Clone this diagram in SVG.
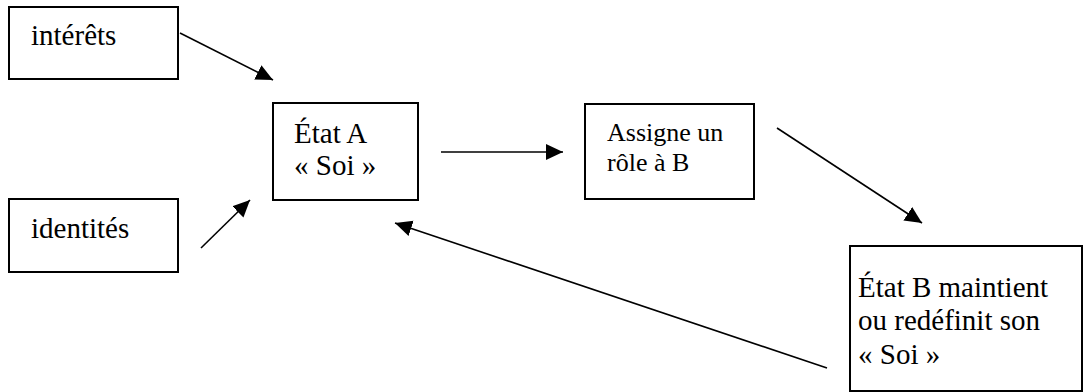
<svg xmlns="http://www.w3.org/2000/svg" width="1083" height="392" viewBox="0 0 1083 392">
<style>
.box{fill:#fff;stroke:#000;stroke-width:2}
.t{font-family:'Liberation Serif','Times New Roman',Times,'DejaVu Serif',serif;font-size:29px;fill:#000}
.t2{font-family:'Liberation Serif','Times New Roman',Times,'DejaVu Serif',serif;font-size:26px;fill:#000}
.c{stroke:#000;stroke-width:1.6;fill:none;marker-end:url(#ah)}
</style>
<defs>
<marker id="ah" markerUnits="userSpaceOnUse" markerWidth="20" markerHeight="18" refX="17" refY="8" orient="auto">
<path d="M0,0 L17,8 L0,16 Z" fill="#000"/>
</marker>
</defs>
<rect width="1083" height="392" fill="#fff"/>
<g id="connectors">
<line class="c" x1="180" y1="33" x2="273" y2="80"/>
<line class="c" x1="201" y1="248" x2="250" y2="200"/>
<line class="c" x1="441" y1="152" x2="563" y2="152"/>
<line class="c" x1="777" y1="128" x2="922" y2="223"/>
<line class="c" x1="827" y1="368" x2="395" y2="223"/>
</g>
<g id="interets">
<rect class="box" x="9" y="7" width="169" height="72"/>
<text class="t" x="31" y="45">intérêts</text>
</g>
<g id="identites">
<rect class="box" x="9" y="199" width="169" height="73"/>
<text class="t" x="31" y="238">identités</text>
</g>
<g id="etatA">
<rect class="box" x="273" y="103" width="145" height="97"/>
<text class="t" x="294" y="143">État A</text>
<text class="t" x="294" y="175">« Soi »</text>
</g>
<g id="assigne">
<rect class="box" x="585" y="104" width="169" height="95"/>
<text class="t2" x="607" y="141">Assigne un</text>
<text class="t2" x="607" y="171">rôle à B</text>
</g>
<g id="etatB">
<rect class="box" x="850" y="246" width="232" height="145"/>
<text class="t" x="858" y="297">État B maintient</text>
<text class="t" x="858" y="330">ou redéfinit son</text>
<text class="t" x="858" y="364">« Soi »</text>
</g>
</svg>
